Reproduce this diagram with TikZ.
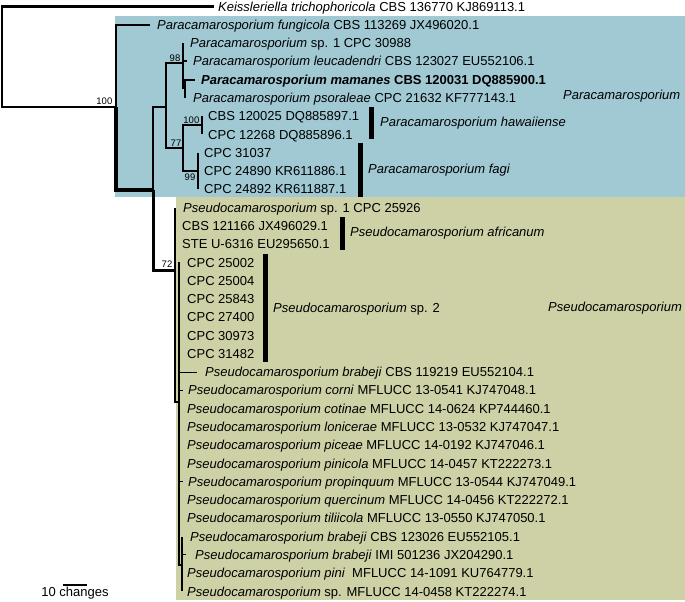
\documentclass[tikz,border=0pt]{standalone}
\usepackage{fontspec}
\setmainfont{Liberation Sans}
\definecolor{bluebg}{HTML}{A0C9D3}
\definecolor{khakibg}{HTML}{CDD1A5}
\newcommand\tipfont{\fontsize{13}{15}\selectfont}
\newcommand\bsfont{\fontsize{9.5}{11}\selectfont}
\newcommand\ry[1]{(6.5+18.28*(#1))}
\newcommand\rb[1]{(11.1+18.28*(#1))}
\begin{document}
\begin{tikzpicture}[x=1pt,y=-1pt,
  br/.style={line width=2.4pt,line cap=rect},
  brm/.style={line width=1.8pt},
  brs/.style={line width=1.1pt},
  lab/.style={anchor=base west,inner sep=0pt,font=\tipfont},
  bs/.style={anchor=south east,inner sep=0.5pt,font=\bsfont},
  bsb/.style={anchor=north east,inner sep=0.5pt,font=\bsfont}]
\useasboundingbox (0,0) rectangle (685,602);
\fill[bluebg] (115,16) rectangle (685,197);
\fill[khakibg] (176,197) rectangle (685,600);
% internal nodes
\coordinate (R) at (2,107);
\coordinate (A) at (116,107);
\coordinate (B) at (153,190);
\coordinate (C) at (166,107);
\coordinate (D) at (183,63);
\coordinate (E) at (185,88);
\coordinate (G) at (183,148);
\coordinate (H) at (202,125);
\coordinate (I) at (198,171);
\coordinate (J) at (175,270);
\coordinate (K) at (179,402);
\coordinate (L) at (182,565);
% tips
\coordinate (k0) at (213,{\ry{0}});
\coordinate (k1) at (150,{\ry{1}});
\coordinate (k2) at (183,{\ry{2}});
\coordinate (k3) at (187,{\ry{3}});
\coordinate (k4) at (195,{\ry{4}});
\coordinate (k5) at (185,{\ry{5}});
\coordinate (k6) at (202,{\ry{6}});
\coordinate (k7) at (202,{\ry{7}});
\coordinate (k8) at (198,{\ry{8}});
\coordinate (k9) at (198,{\ry{9}});
\coordinate (k10) at (198,{\ry{10}});
\coordinate (k11) at (175,{\ry{11}});
\coordinate (k12) at (175,{\ry{12}});
\coordinate (k13) at (175,{\ry{13}});
\foreach \i in {14,...,19,22,23,24,25,27,28} {\coordinate (k\i) at (179,{\ry{\i}});}
\coordinate (k20) at (197,{\ry{20}});
\coordinate (k21) at (183,{\ry{21}});
\coordinate (k26) at (183,{\ry{26}});
\coordinate (k29) at (182,{\ry{29}});
\coordinate (k30) at (186,{\ry{30}});
\coordinate (k31) at (182,{\ry{31}});
\coordinate (k32) at (182,{\ry{32}});
% branches
\draw[br] (R) |- (k0);
\draw[br] (R) |- (A);
\draw[brm] (A) |- (k1);
\draw[line width=3.2pt] (A) |- (B);
\draw[br] (B) |- (C);
\draw[line width=3pt] (B) |- (J);
\draw[br] (C) |- (D);
\draw[br] (C) |- (G);
\draw[brm] (D) |- (k2);
\draw[brm] (D) |- (k3);
\draw[brm] (D) |- (E);
\draw[brm] (E) |- (k4);
\draw[brm] (E) |- (k5);
\draw[br] (G) |- (H);
\draw[br] (G) |- (I);
\draw[brm] (H) |- (k6);
\draw[brm] (H) |- (k7);
\draw[brm] (I) |- (k8);
\draw[brm] (I) |- (k9);
\draw[brm] (I) |- (k10);
\draw[brm] (J) |- (k11);
\draw[brm] (J) |- (k12);
\draw[brm] (J) |- (k13);
\draw[brm] (J) |- (K);
\foreach \i in {14,...,28} {\draw[brs] (K) |- (k\i);}
\draw[brs] (K) |- (L);
\foreach \i in {29,...,32} {\draw[brs] (L) |- (k\i);}
% bootstrap
\node[bs] (s100a) at (113,105) {100};
\node[bs] (s98) at (181,62) {98};
\node[bs] (s77) at (182,147) {77};
\node[bs] (s100b) at (200,124) {100};
\node[bsb] (s99) at (196,173) {99};
\node[bs] (s72) at (173,268) {72};
% tip labels
\node[lab] (t0) at (218,{\rb{0}}) {\textit{Keissleriella trichophoricola} CBS 136770 KJ869113.1};
\node[lab] (t1) at (157,{\rb{1}}) {\textit{Paracamarosporium fungicola} CBS 113269 JX496020.1};
\node[lab] (t2) at (190,{\rb{2}}) {\textit{Paracamarosporium} sp. 1 CPC 30988};
\node[lab] (t3) at (193,{\rb{3}}) {\textit{Paracamarosporium leucadendri} CBS 123027 EU552106.1};
\node[lab] (t4) at (201,{\rb{4}}) {\bfseries\textit{Paracamarosporium mamanes} CBS 120031 DQ885900.1};
\node[lab] (t5) at (193,{\rb{5}}) {\textit{Paracamarosporium psoraleae} CPC 21632 KF777143.1};
\node[lab] (t6) at (208,{\rb{6}}) {CBS 120025 DQ885897.1};
\node[lab] (t7) at (208,{\rb{7}}) {CPC 12268 DQ885896.1};
\node[lab] (t8) at (204,{\rb{8}}) {CPC 31037};
\node[lab] (t9) at (204,{\rb{9}}) {CPC 24890 KR611886.1};
\node[lab] (t10) at (204,{\rb{10}}) {CPC 24892 KR611887.1};
\node[lab] (t11) at (183,{\rb{11}}) {\textit{Pseudocamarosporium} sp. 1 CPC 25926};
\node[lab] (t12) at (182,{\rb{12}}) {CBS 121166 JX496029.1};
\node[lab] (t13) at (182,{\rb{13}}) {STE U-6316 EU295650.1};
\node[lab] (t14) at (187,{\rb{14}}) {CPC 25002};
\node[lab] (t15) at (187,{\rb{15}}) {CPC 25004};
\node[lab] (t16) at (187,{\rb{16}}) {CPC 25843};
\node[lab] (t17) at (187,{\rb{17}}) {CPC 27400};
\node[lab] (t18) at (187,{\rb{18}}) {CPC 30973};
\node[lab] (t19) at (187,{\rb{19}}) {CPC 31482};
\node[lab] (t20) at (205,{\rb{20}}) {\textit{Pseudocamarosporium brabeji} CBS 119219 EU552104.1};
\node[lab] (t21) at (188,{\rb{21}}) {\textit{Pseudocamarosporium corni} MFLUCC 13-0541 KJ747048.1};
\node[lab] (t22) at (187,{\rb{22}}) {\textit{Pseudocamarosporium cotinae} MFLUCC 14-0624 KP744460.1};
\node[lab] (t23) at (187,{\rb{23}}) {\textit{Pseudocamarosporium lonicerae} MFLUCC 13-0532 KJ747047.1};
\node[lab] (t24) at (187,{\rb{24}}) {\textit{Pseudocamarosporium piceae} MFLUCC 14-0192 KJ747046.1};
\node[lab] (t25) at (187,{\rb{25}}) {\textit{Pseudocamarosporium pinicola} MFLUCC 14-0457 KT222273.1};
\node[lab] (t26) at (188,{\rb{26}}) {\textit{Pseudocamarosporium propinquum} MFLUCC 13-0544 KJ747049.1};
\node[lab] (t27) at (187,{\rb{27}}) {\textit{Pseudocamarosporium quercinum} MFLUCC 14-0456 KT222272.1};
\node[lab] (t28) at (187,{\rb{28}}) {\textit{Pseudocamarosporium tiliicola} MFLUCC 13-0550 KJ747050.1};
\node[lab] (t29) at (190,{\rb{29}}) {\textit{Pseudocamarosporium brabeji} CBS 123026 EU552105.1};
\node[lab] (t30) at (195,{\rb{30}}) {\textit{Pseudocamarosporium brabeji} IMI 501236 JX204290.1};
\node[lab] (t31) at (187,{\rb{31}}) {\textit{Pseudocamarosporium pini}\ \ MFLUCC 14-1091 KU764779.1};
\node[lab] (t32) at (187,{\rb{32}}) {\textit{Pseudocamarosporium} sp. MFLUCC 14-0458 KT222274.1};
% clade bars and labels
\fill (369,107) rectangle (374,139);
\node[lab] (c1) at (380,126.6) {\textit{Paracamarosporium hawaiiense}};
\fill (358,143) rectangle (363,197);
\node[lab] (c2) at (368,173.6) {\textit{Paracamarosporium fagi}};
\fill (340,217) rectangle (345,250);
\node[lab] (c3) at (350,236.6) {\textit{Pseudocamarosporium africanum}};
\fill (263,254) rectangle (268,362);
\node[lab] (c4) at (273,312.6) {\textit{Pseudocamarosporium} sp. 2};
\node[lab] (g1) at (563,99.6) {\textit{Paracamarosporium}};
\node[lab] (g2) at (548,311.6) {\textit{Pseudocamarosporium}};
% scale bar
\coordinate (sb0) at (63,585);
\coordinate (sb1) at (87,585);
\draw[line width=1.3pt] (sb0) -- (sb1);
\node[anchor=base,inner sep=0pt,font=\tipfont] (sbl) at (75,596) {10 changes};
\end{tikzpicture}
\end{document}
